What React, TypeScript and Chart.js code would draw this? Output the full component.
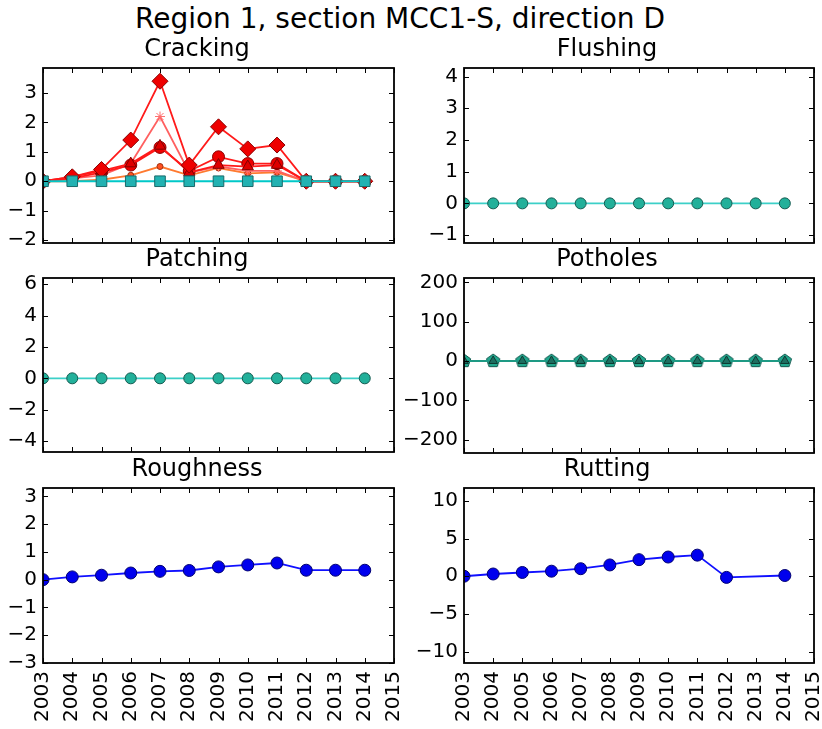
import React, { useEffect, useRef } from 'react';
import { Chart, registerables } from 'chart.js';

Chart.register(...registerables);

const FONT = "'DejaVu Sans', 'Liberation Sans', sans-serif";

const figureTitle = 'Region 1, section MCC1-S, direction D';
const years = [2003, 2004, 2005, 2006, 2007, 2008, 2009, 2010, 2011, 2012, 2013, 2014];
const xTickValues = [2003, 2004, 2005, 2006, 2007, 2008, 2009, 2010, 2011, 2012, 2013, 2014, 2015];

// Cracking
const crackingDiamond = [0, 0.15, 0.4, 1.4, 3.4, 0.55, 1.85, 1.1, 1.23, 0, 0, 0];
const crackingLight = [0, 0.1, 0.2, 0.6, 2.2, 0.3, 0.5, 0.35, 0.35, 0, 0, 0];
const crackingTriangle = [0, 0.15, 0.35, 0.6, 1.2, 0.3, 0.55, 0.5, 0.55, 0, 0, 0];
const crackingCircle = [0, 0.1, 0.3, 0.55, 1.15, 0.35, 0.83, 0.6, 0.6, 0, 0, 0];
const crackingLow = [0, 0, 0.05, 0.2, 0.5, 0.2, 0.45, 0.27, 0.3, 0, 0, 0];
const crackingSquare = [0, 0, 0, 0, 0, 0, 0, 0, 0, 0, 0, 0];
const crackingTicks = [-2, -1, 0, 1, 2, 3];

// Flushing
const flushingValues = [0, 0, 0, 0, 0, 0, 0, 0, 0, 0, 0, 0];
const flushingTicks = [-1, 0, 1, 2, 3, 4];

// Patching
const patchingValues = [0, 0, 0, 0, 0, 0, 0, 0, 0, 0, 0, 0];
const patchingTicks = [-4, -2, 0, 2, 4, 6];

// Potholes
const potholesTriangle = [0, 0, 0, 0, 0, 0, 0, 0, 0, 0, 0, 0];
const potholesPentagon = [0, 0, 0, 0, 0, 0, 0, 0, 0, 0, 0, 0];
const potholesTicks = [-200, -100, 0, 100, 200];

// Roughness
const roughnessValues = [0, 0.1, 0.16, 0.24, 0.3, 0.33, 0.46, 0.53, 0.6, 0.34, 0.34, 0.34];
const roughnessTicks = [-3, -2, -1, 0, 1, 2, 3];

// Rutting
const ruttingValues = [0, 0.3, 0.5, 0.67, 1.0, 1.5, 2.2, 2.55, 2.8, -0.15, null, 0.1];
const ruttingTicks = [-10, -5, 0, 5, 10];

function pts(vals: (number | null)[]) {
  return years.map((x, i) => ({ x, y: vals[i] }));
}

function makePentagon(r: number, fill: string, stroke: string) {
  const c = document.createElement('canvas');
  const s = Math.ceil(r * 2 + 4);
  c.width = s;
  c.height = s;
  const g = c.getContext('2d')!;
  g.beginPath();
  for (let i = 0; i < 5; i++) {
    const a = -Math.PI / 2 + (i * 2 * Math.PI) / 5;
    const px = s / 2 + r * Math.cos(a);
    const py = s / 2 + r * Math.sin(a);
    if (i === 0) g.moveTo(px, py);
    else g.lineTo(px, py);
  }
  g.closePath();
  g.fillStyle = fill;
  g.fill();
  g.strokeStyle = stroke;
  g.lineWidth = 1;
  g.stroke();
  return c;
}

const framePlugin = {
  id: 'frame',
  afterDatasetsDraw(chart: any) {
    const { ctx, chartArea: a, scales } = chart;
    ctx.save();
    ctx.strokeStyle = '#000';
    ctx.lineWidth = 1;
    const xs = scales.x;
    const ys = scales.y;
    ctx.beginPath();
    xs.ticks.forEach((t: any) => {
      const px = Math.round(xs.getPixelForValue(t.value)) + 0.5;
      ctx.moveTo(px, a.bottom);
      ctx.lineTo(px, a.bottom - 5);
      ctx.moveTo(px, a.top);
      ctx.lineTo(px, a.top + 5);
    });
    ys.ticks.forEach((t: any) => {
      const py = Math.round(ys.getPixelForValue(t.value)) + 0.5;
      ctx.moveTo(a.left, py);
      ctx.lineTo(a.left + 5, py);
      ctx.moveTo(a.right, py);
      ctx.lineTo(a.right - 5, py);
    });
    ctx.stroke();
    ctx.lineWidth = 1.8;
    ctx.strokeRect(a.left, a.top, a.right - a.left, a.bottom - a.top);
    ctx.restore();
  },
};

type DS = {
  values: (number | null)[];
  line: string;
  fill: string;
  edge: string;
  style: any;
  radius: number;
};

type Panel = {
  title: string;
  left: number;
  top: number;
  width: number;
  height: number;
  yWidth: number;
  xHeight: number;
  showX: boolean;
  yMin: number;
  yMax: number;
  yTicks: number[];
  datasets: DS[];
};

const tealLine = '#3cd0c8';
const tealFill = '#22b09a';
const tealEdge = '#145a50';

const panels: Panel[] = [
  {
    title: 'Cracking', left: 0, top: 35, width: 406, height: 222, yWidth: 43, xHeight: 14, showX: false,
    yMin: -2.1, yMax: 3.85, yTicks: crackingTicks,
    datasets: [
      { values: crackingSquare, line: '#00c8c8', fill: '#22b2b2', edge: '#1a6a6a', style: 'rect', radius: 7.5 },
      { values: crackingDiamond, line: '#ff1a1a', fill: '#ee0000', edge: '#8a0000', style: 'rectRot', radius: 8 },
      { values: crackingTriangle, line: '#ff1a1a', fill: '#dd0000', edge: '#800000', style: 'triangle', radius: 6.5 },
      { values: crackingCircle, line: '#ff1a1a', fill: '#ee0000', edge: '#8a0000', style: 'circle', radius: 6 },
      { values: crackingLight, line: '#ff6060', fill: '#ffb0a0', edge: '#ff7070', style: 'star', radius: 5 },
      { values: crackingLow, line: '#ff7a30', fill: '#ff5020', edge: '#a03010', style: 'circle', radius: 3 },
    ],
  },
  {
    title: 'Flushing', left: 400, top: 35, width: 426, height: 222, yWidth: 64, xHeight: 14, showX: false,
    yMin: -1.25, yMax: 4.27, yTicks: flushingTicks,
    datasets: [
      { values: flushingValues, line: tealLine, fill: tealFill, edge: tealEdge, style: 'circle', radius: 5.5 },
    ],
  },
  {
    title: 'Patching', left: 0, top: 245, width: 406, height: 221, yWidth: 43, xHeight: 14, showX: false,
    yMin: -4.7, yMax: 6.4, yTicks: patchingTicks,
    datasets: [
      { values: patchingValues, line: tealLine, fill: tealFill, edge: tealEdge, style: 'circle', radius: 5.5 },
    ],
  },
  {
    title: 'Potholes', left: 400, top: 245, width: 426, height: 222, yWidth: 64, xHeight: 14, showX: false,
    yMin: -234, yMax: 211, yTicks: potholesTicks,
    datasets: [
      { values: potholesTriangle, line: '#1e9a84', fill: '#1e6e60', edge: '#0e3a32', style: 'triangle', radius: 5 },
      { values: potholesPentagon, line: tealLine, fill: '#22a88e', edge: tealEdge, style: 'pentagon', radius: 7 },
    ],
  },
  {
    title: 'Roughness', left: 0, top: 455, width: 406, height: 274, yWidth: 43, xHeight: 66, showX: true,
    yMin: -3, yMax: 3.3, yTicks: roughnessTicks,
    datasets: [
      { values: roughnessValues, line: '#1010ff', fill: '#0000ee', edge: '#000070', style: 'circle', radius: 6 },
    ],
  },
  {
    title: 'Rutting', left: 400, top: 455, width: 426, height: 274, yWidth: 64, xHeight: 66, showX: true,
    yMin: -11.5, yMax: 11.7, yTicks: ruttingTicks,
    datasets: [
      { values: ruttingValues, line: '#1010ff', fill: '#0000ee', edge: '#000070', style: 'circle', radius: 6 },
    ],
  },
];

function fmt(v: number) {
  return v < 0 ? '\u2212' + String(Math.abs(v)) : String(v);
}

function PanelChart({ p }: { p: Panel }) {
  const ref = useRef<HTMLCanvasElement | null>(null);
  useEffect(() => {
    if (!ref.current) return;
    const chart = new Chart(ref.current, {
      type: 'line',
      data: {
        datasets: p.datasets.map((d) => ({
          data: pts(d.values) as any,
          borderColor: d.line,
          borderWidth: 1.8,
          pointStyle: d.style === 'pentagon' ? makePentagon(d.radius, d.fill, d.edge) : d.style,
          pointRadius: d.radius,
          pointBackgroundColor: d.fill,
          pointBorderColor: d.edge,
          pointBorderWidth: 1,
          tension: 0,
          spanGaps: true,
          fill: false,
          clip: 0,
        })),
      },
      options: {
        responsive: false,
        animation: false,
        devicePixelRatio: 1,
        layout: { padding: { left: 0, right: 12, top: 0, bottom: 0 } },
        plugins: {
          legend: { display: false },
          tooltip: { enabled: false },
          title: {
            display: true,
            text: p.title,
            color: '#000',
            font: { family: FONT, size: 24, weight: 'normal' },
            padding: { top: 0, bottom: 4.2 },
          },
        },
        scales: {
          x: {
            type: 'linear',
            min: 2003,
            max: 2015,
            grid: { display: false, drawTicks: false },
            border: { display: false },
            ticks: {
              display: p.showX,
              color: '#000',
              font: { family: FONT, size: 20 },
              minRotation: 90,
              maxRotation: 90,
              autoSkip: false,
              padding: 8,
              callback: (v: any) => String(v),
            },
            afterBuildTicks: (s: any) => {
              s.ticks = xTickValues.map((v) => ({ value: v }));
            },
            afterFit: (s: any) => {
              s.height = p.xHeight;
              s.paddingLeft = 0;
              s.paddingRight = 0;
            },
          },
          y: {
            type: 'linear',
            min: p.yMin,
            max: p.yMax,
            grid: { display: false, drawTicks: false },
            border: { display: false },
            ticks: {
              color: '#000',
              font: { family: FONT, size: 20 },
              padding: 6,
              callback: (v: any) => fmt(Number(v)),
            },
            afterBuildTicks: (s: any) => {
              s.ticks = p.yTicks.map((v) => ({ value: v }));
            },
            afterFit: (s: any) => {
              s.width = p.yWidth;
              s.paddingTop = 0;
              s.paddingBottom = 0;
            },
          },
        },
      } as any,
      plugins: [framePlugin],
    });
    return () => chart.destroy();
  }, [p]);
  return (
    <canvas
      ref={ref}
      width={p.width}
      height={p.height}
      style={{ position: 'absolute', left: p.left, top: p.top, width: p.width, height: p.height }}
    />
  );
}

export default function App() {
  return (
    <div
      style={{
        position: 'fixed',
        left: 0,
        top: 0,
        width: 822,
        height: 729,
        overflow: 'hidden',
        background: '#fff',
      }}
    >
      <div
        style={{
          position: 'absolute',
          left: 0,
          top: 5,
          width: 800,
          textAlign: 'center',
          fontFamily: FONT,
          fontSize: 28,
          lineHeight: '28px',
          color: '#000',
          whiteSpace: 'nowrap',
        }}
      >
        {figureTitle}
      </div>
      {panels.map((p) => (
        <PanelChart key={p.title} p={p} />
      ))}
    </div>
  );
}
